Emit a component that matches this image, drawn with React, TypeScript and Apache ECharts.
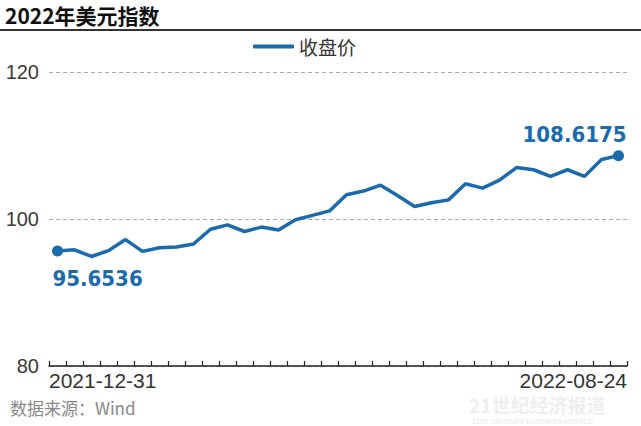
import React, { useEffect, useRef } from 'react';
import * as echarts from 'echarts';

const titleText = '2022年美元指数';
const seriesName = '收盘价';
const sourceText = '数据来源：Wind';
const watermarkMain = '21世纪经济报道';
const watermarkSub = '21ST CENTURY BUSINESS HERALD';

const dates = [
  '2021-12-31', '2022-01-07', '2022-01-14', '2022-01-21', '2022-01-28', '2022-02-04',
  '2022-02-11', '2022-02-18', '2022-02-25', '2022-03-04', '2022-03-11', '2022-03-18',
  '2022-03-25', '2022-04-01', '2022-04-08', '2022-04-15', '2022-04-22', '2022-04-29',
  '2022-05-06', '2022-05-13', '2022-05-20', '2022-05-27', '2022-06-03', '2022-06-10',
  '2022-06-17', '2022-06-24', '2022-07-01', '2022-07-08', '2022-07-15', '2022-07-22',
  '2022-07-29', '2022-08-05', '2022-08-12', '2022-08-24',
];

const closePrices = [
  95.6536, 95.8, 94.9, 95.7, 97.2, 95.6,
  96.1, 96.2, 96.6, 98.6, 99.2, 98.3,
  98.9, 98.5, 99.9, 100.5, 101.1, 103.3,
  103.8, 104.6, 103.2, 101.7, 102.2, 102.6,
  104.8, 104.2, 105.3, 107.0, 106.7, 105.8,
  106.7, 105.8, 108.1, 108.6175,
];

const yMin = 80;
const yMax = 120;
const yStep = 20;

export default function App() {
  const ref = useRef<HTMLDivElement>(null);

  useEffect(() => {
    const chart = echarts.init(ref.current!, null, { renderer: 'svg' });
    const last = closePrices.length - 1;
    const blue = '#1a6aae';
    const labelFont = {
      fontFamily: 'DejaVu Sans Condensed',
      fontWeight: 'bold' as const,
      fontSize: 22,
      color: blue,
    };
    const data = closePrices.map((v, i) => {
      if (i === 0) {
        return {
          value: v,
          symbol: 'circle',
          symbolSize: 11,
          label: { show: true, position: 'bottom', align: 'left', distance: 11, offset: [-5, 0], ...labelFont },
        };
      }
      if (i === last) {
        return {
          value: v,
          symbol: 'circle',
          symbolSize: 11,
          label: { show: true, position: 'top', align: 'right', distance: 5, offset: [8, 0], ...labelFont },
        };
      }
      return { value: v, symbol: 'none' };
    });

    chart.setOption({
      animation: false,
      backgroundColor: '#ffffff',
      title: {
        text: titleText,
        left: 5,
        top: 4,
        padding: 0,
        textStyle: {
          fontFamily: 'Noto Sans CJK SC',
          fontSize: 21,
          fontWeight: 'bold',
          color: '#111',
        },
      },
      legend: {
        data: [seriesName],
        left: 253,
        top: 37,
        padding: 0,
        icon: 'roundRect',
        itemWidth: 41,
        itemHeight: 4,
        textStyle: { fontFamily: 'Noto Sans CJK SC', fontSize: 19, color: '#333' },
      },
      grid: {
        left: 49,
        right: 14,
        top: 72,
        bottom: 60,
        containLabel: false,
        outerBoundsMode: 'none',
      },
      xAxis: [
        {
          type: 'category',
          data: dates,
          boundaryGap: true,
          axisLine: { show: true, lineStyle: { color: '#222', width: 1.5 } },
          axisTick: { show: true, inside: true, length: 5, interval: 0, lineStyle: { color: '#222', width: 1.2 } },
          axisLabel: { show: false },
          splitLine: { show: false },
        },
        {
          type: 'category',
          data: dates,
          boundaryGap: false,
          position: 'bottom',
          axisLine: { show: false },
          axisTick: { show: false },
          splitLine: { show: false },
          axisLabel: {
            interval: (index: number) => index === 0 || index === dates.length - 1,
            alignMinLabel: 'left',
            alignMaxLabel: 'right',
            fontFamily: 'Liberation Sans',
            fontSize: 21,
            color: '#333',
            margin: 4,
          },
        },
      ],
      yAxis: {
        type: 'value',
        min: yMin,
        max: yMax,
        interval: yStep,
        axisLine: { show: false },
        axisTick: { show: false },
        axisLabel: {
          fontFamily: 'Liberation Sans',
          fontSize: 20,
          color: '#3a3a3a',
          margin: 10,
          padding: [6, 0, 0, 0],
        },
        splitLine: { show: true, lineStyle: { color: '#aaa', width: 1, type: [4, 3] } },
      },
      series: [
        {
          name: seriesName,
          type: 'line',
          xAxisIndex: 0,
          data,
          showSymbol: true,
          lineStyle: { color: blue, width: 3.5 },
          itemStyle: { color: blue },
          label: { show: false },
          z: 5,
        },
      ],
      graphic: [
        {
          type: 'line',
          shape: { x1: 0, y1: 30, x2: 641, y2: 30 },
          style: { stroke: '#333', lineWidth: 2 },
        },
        {
          type: 'text',
          left: 10,
          top: 399,
          style: { text: sourceText, fontFamily: 'Noto Sans CJK SC', fontSize: 17, fill: '#888' },
        },
        {
          type: 'text',
          left: 469,
          top: 395,
          z: -1,
          style: { text: watermarkMain, fontFamily: 'Noto Sans CJK SC', fontWeight: 'bold', fontSize: 19, fill: '#eeeeee' },
        },
        {
          type: 'text',
          left: 472,
          top: 418,
          z: -1,
          style: { text: watermarkSub, fontFamily: 'Liberation Sans', fontWeight: 'bold', fontSize: 7, fill: '#eeeeee' },
        },
      ],
    });

    return () => chart.dispose();
  }, []);

  return (
    <div
      ref={ref}
      style={{ position: 'fixed', left: 0, top: 0, width: 641, height: 426 }}
    />
  );
}
